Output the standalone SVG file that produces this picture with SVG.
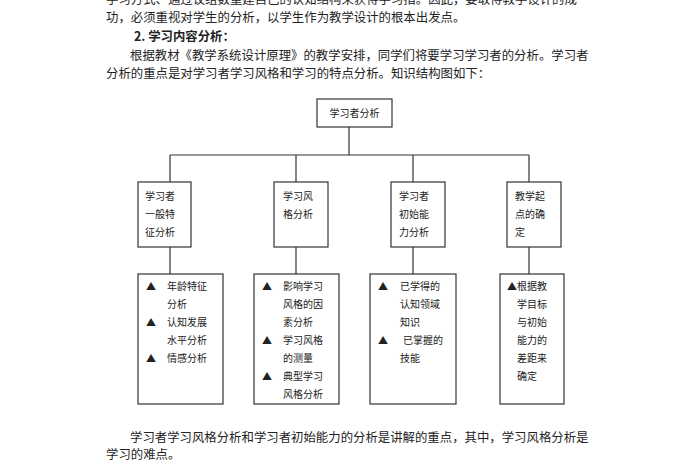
<svg xmlns="http://www.w3.org/2000/svg" width="700" height="470" viewBox="0 0 700 470">
<style>
.p{font-family:"Noto Sans CJK SC","Liberation Sans",sans-serif;font-size:12.4px;fill:#222}
.n{font-family:"Noto Sans CJK SC","Liberation Sans",sans-serif;font-size:10px;fill:#222}
.b{fill:#fff;stroke:#333;stroke-width:1.2}
.c{fill:none;stroke:#333;stroke-width:1.2}
</style>
<rect width="700" height="470" fill="#fff"/>
<g id="text-top">
<text class="p" x="106" y="4">学习方式、通过议组数重建自己的认知结构来获得学习指。因此，要取得教学设计的成</text>
<text class="p" x="106" y="22">功，必须重视对学生的分析，以学生作为教学设计的根本出发点。</text>
<text class="p" x="134" y="41" font-weight="bold">2. 学习内容分析：</text>
<text class="p" x="130" y="60">根据教材《教学系统设计原理》的教学安排，同学们将要学习学习者的分析。学习者</text>
<text class="p" x="106" y="78">分析的重点是对学习者学习风格和学习的特点分析。知识结构图如下：</text>
</g>
<g id="connectors">
<path class="c" d="M349 127V155M170 155H529M170 155V182M296 155V182M413 155V182M529 155V182M170 247V274M296 247V274M413 247V274M529 247V274"/>
</g>
<g id="root"><rect class="b" x="317" y="99" width="75" height="28"/><text class="n" x="354.5" y="117" text-anchor="middle">学习者分析</text></g>
<g id="n1"><rect class="b" x="138" y="182" width="53" height="65"/><text class="n" x="145" y="200">学习者</text><text class="n" x="145" y="218">一般特</text><text class="n" x="145" y="236">征分析</text></g>
<g id="n2"><rect class="b" x="274" y="182" width="54" height="65"/><text class="n" x="283" y="200">学习风</text><text class="n" x="283" y="218">格分析</text></g>
<g id="n3"><rect class="b" x="391" y="182" width="54" height="65"/><text class="n" x="399" y="200">学习者</text><text class="n" x="399" y="218">初始能</text><text class="n" x="399" y="236">力分析</text></g>
<g id="n4"><rect class="b" x="507" y="182" width="54" height="65"/><text class="n" x="515" y="200">教学起</text><text class="n" x="515" y="218">点的确</text><text class="n" x="515" y="236">定</text></g>
<g id="d1"><rect class="b" x="138" y="274" width="85" height="130"/>
<text class="n" x="146" y="290">▲</text><text class="n" x="167" y="290">年龄特征</text><text class="n" x="167" y="308">分析</text>
<text class="n" x="146" y="326">▲</text><text class="n" x="167" y="326">认知发展</text><text class="n" x="167" y="344">水平分析</text>
<text class="n" x="146" y="362">▲</text><text class="n" x="167" y="362">情感分析</text></g>
<g id="d2"><rect class="b" x="254" y="274" width="85" height="130"/>
<text class="n" x="262" y="290">▲</text><text class="n" x="283" y="290">影响学习</text><text class="n" x="283" y="308">风格的因</text><text class="n" x="283" y="326">素分析</text>
<text class="n" x="262" y="344">▲</text><text class="n" x="283" y="344">学习风格</text><text class="n" x="283" y="362">的测量</text>
<text class="n" x="262" y="380">▲</text><text class="n" x="283" y="380">典型学习</text><text class="n" x="283" y="398">风格分析</text></g>
<g id="d3"><rect class="b" x="370" y="274" width="86" height="130"/>
<text class="n" x="378" y="290">▲</text><text class="n" x="400" y="290">已学得的</text><text class="n" x="400" y="308">认知领域</text><text class="n" x="400" y="326">知识</text>
<text class="n" x="378" y="344">▲</text><text class="n" x="403" y="344">已掌握的</text><text class="n" x="400" y="362">技能</text></g>
<g id="d4"><rect class="b" x="500" y="274" width="64" height="130"/>
<text class="n" x="507" y="290">▲根据教</text><text class="n" x="517" y="308">学目标</text><text class="n" x="517" y="326">与初始</text><text class="n" x="517" y="344">能力的</text><text class="n" x="517" y="362">差距来</text><text class="n" x="517" y="380">确定</text></g>
<g id="text-bottom">
<text class="p" x="130" y="442">学习者学习风格分析和学习者初始能力的分析是讲解的重点，其中，学习风格分析是</text>
<text class="p" x="106" y="459">学习的难点。</text>
</g>
</svg>
